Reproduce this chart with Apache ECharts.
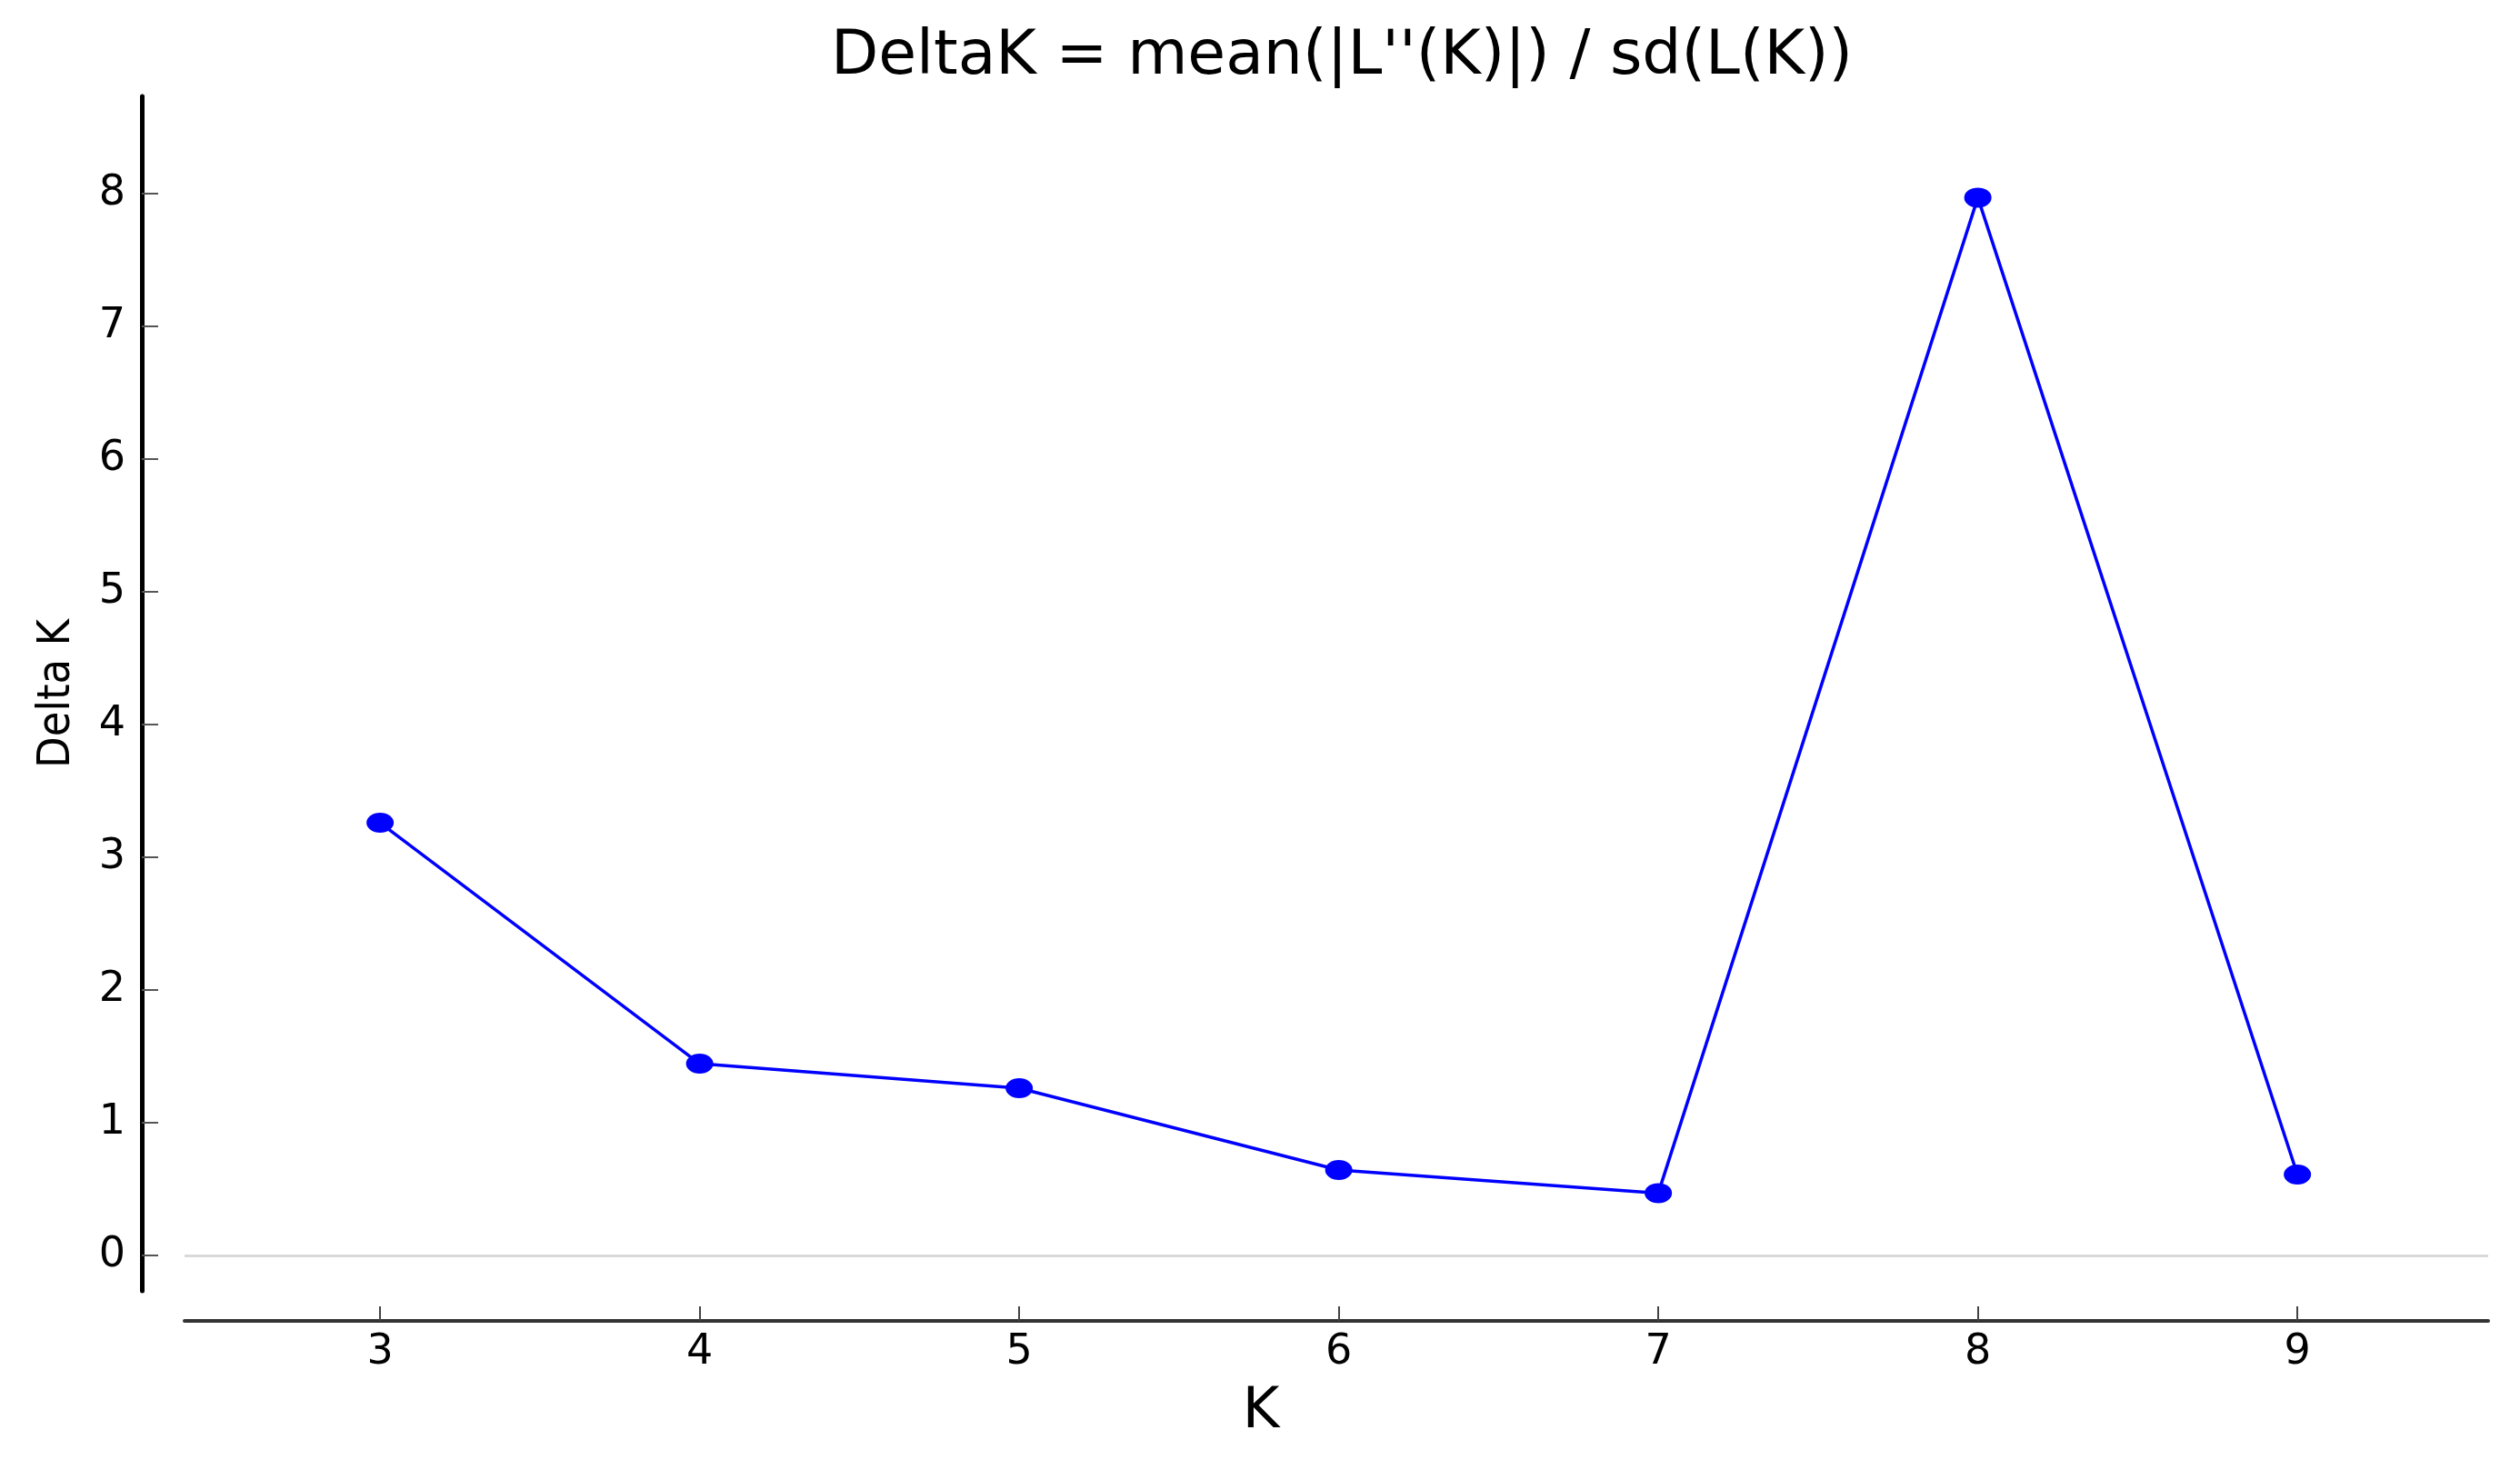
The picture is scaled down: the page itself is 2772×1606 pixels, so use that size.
<!DOCTYPE html>
<html>
<head>
<meta charset="utf-8">
<script src="https://cdn.jsdelivr.net/npm/echarts@6/dist/echarts.min.js"></script>
<style>
html,body{margin:0;padding:0;background:#fff;}
#chart{width:2772px;height:1606px;}
</style>
</head>
<body>
<div id="chart"></div>
<script>
const titleText = "DeltaK = mean(|L''(K)|) / sd(L(K))";
const xName = "K";
const yName = "Delta K";
const kValues = [3, 4, 5, 6, 7, 8, 9];
const deltaK = [3.26, 1.445, 1.26, 0.644, 0.47, 7.97, 0.61];
const xTickValues = [3, 4, 5, 6, 7, 8, 9];
const yTickValues = [0, 1, 2, 3, 4, 5, 6, 7, 8];

const chart = echarts.init(document.getElementById('chart'), null, {renderer: 'canvas'});
const fontMain = 'DejaVu Sans, Verdana, sans-serif';

chart.setOption({
  backgroundColor: '#ffffff',
  animation: false,
  title: {
    text: titleText,
    left: 1476,
    top: 29,
    padding: 0,
    textAlign: 'center',
    textStyle: {fontFamily: fontMain, fontSize: 68, fontWeight: 'normal', color: '#000'}
  },
  grid: {left: 203, right: 35, top: 106, bottom: 186, containLabel: false},
  xAxis: {
    type: 'value',
    min: 2.388,
    max: 9.597,
    offset: 33,
    name: xName,
    nameLocation: 'middle',
    nameGap: 70,
    nameTextStyle: {fontFamily: fontMain, fontSize: 62, color: '#000', padding: [0, 166, 0, 0]},
    axisLine: {show: true, onZero: false, lineStyle: {color: '#333', width: 4}},
    axisTick: {show: true, inside: true, length: 16, customValues: xTickValues, lineStyle: {color: '#444', width: 2}},
    axisLabel: {show: true, customValues: xTickValues, margin: 12, fontFamily: fontMain, fontSize: 46, color: '#000'},
    splitLine: {show: false}
  },
  yAxis: {
    type: 'value',
    min: -0.267,
    max: 8.733,
    offset: 47,
    name: yName,
    nameLocation: 'middle',
    nameGap: 68,
    nameTextStyle: {fontFamily: 'Liberation Sans Narrow, DejaVu Sans Condensed, Liberation Sans, sans-serif', fontSize: 50, color: '#000'},
    axisLine: {show: true, onZero: false, lineStyle: {color: '#000', width: 5}},
    axisTick: {show: true, inside: true, length: 18, customValues: yTickValues, lineStyle: {color: '#555', width: 2}},
    axisLabel: {show: true, customValues: yTickValues, margin: 18, fontFamily: fontMain, fontSize: 46, color: '#000'},
    splitLine: {show: false}
  },
  series: [{
    type: 'line',
    data: kValues.map((k, i) => [k, deltaK[i]]),
    symbol: 'circle',
    symbolSize: [30, 22],
    showAllSymbol: true,
    lineStyle: {color: '#0000ff', width: 3.5},
    itemStyle: {color: '#0000ff'},
    z: 3,
    markLine: {
      silent: true,
      symbol: ['none', 'none'],
      label: {show: false},
      lineStyle: {color: '#d9d9d9', width: 3, type: 'solid'},
      data: [{yAxis: 0}],
      z: 1
    }
  }]
});
</script>
</body>
</html>
